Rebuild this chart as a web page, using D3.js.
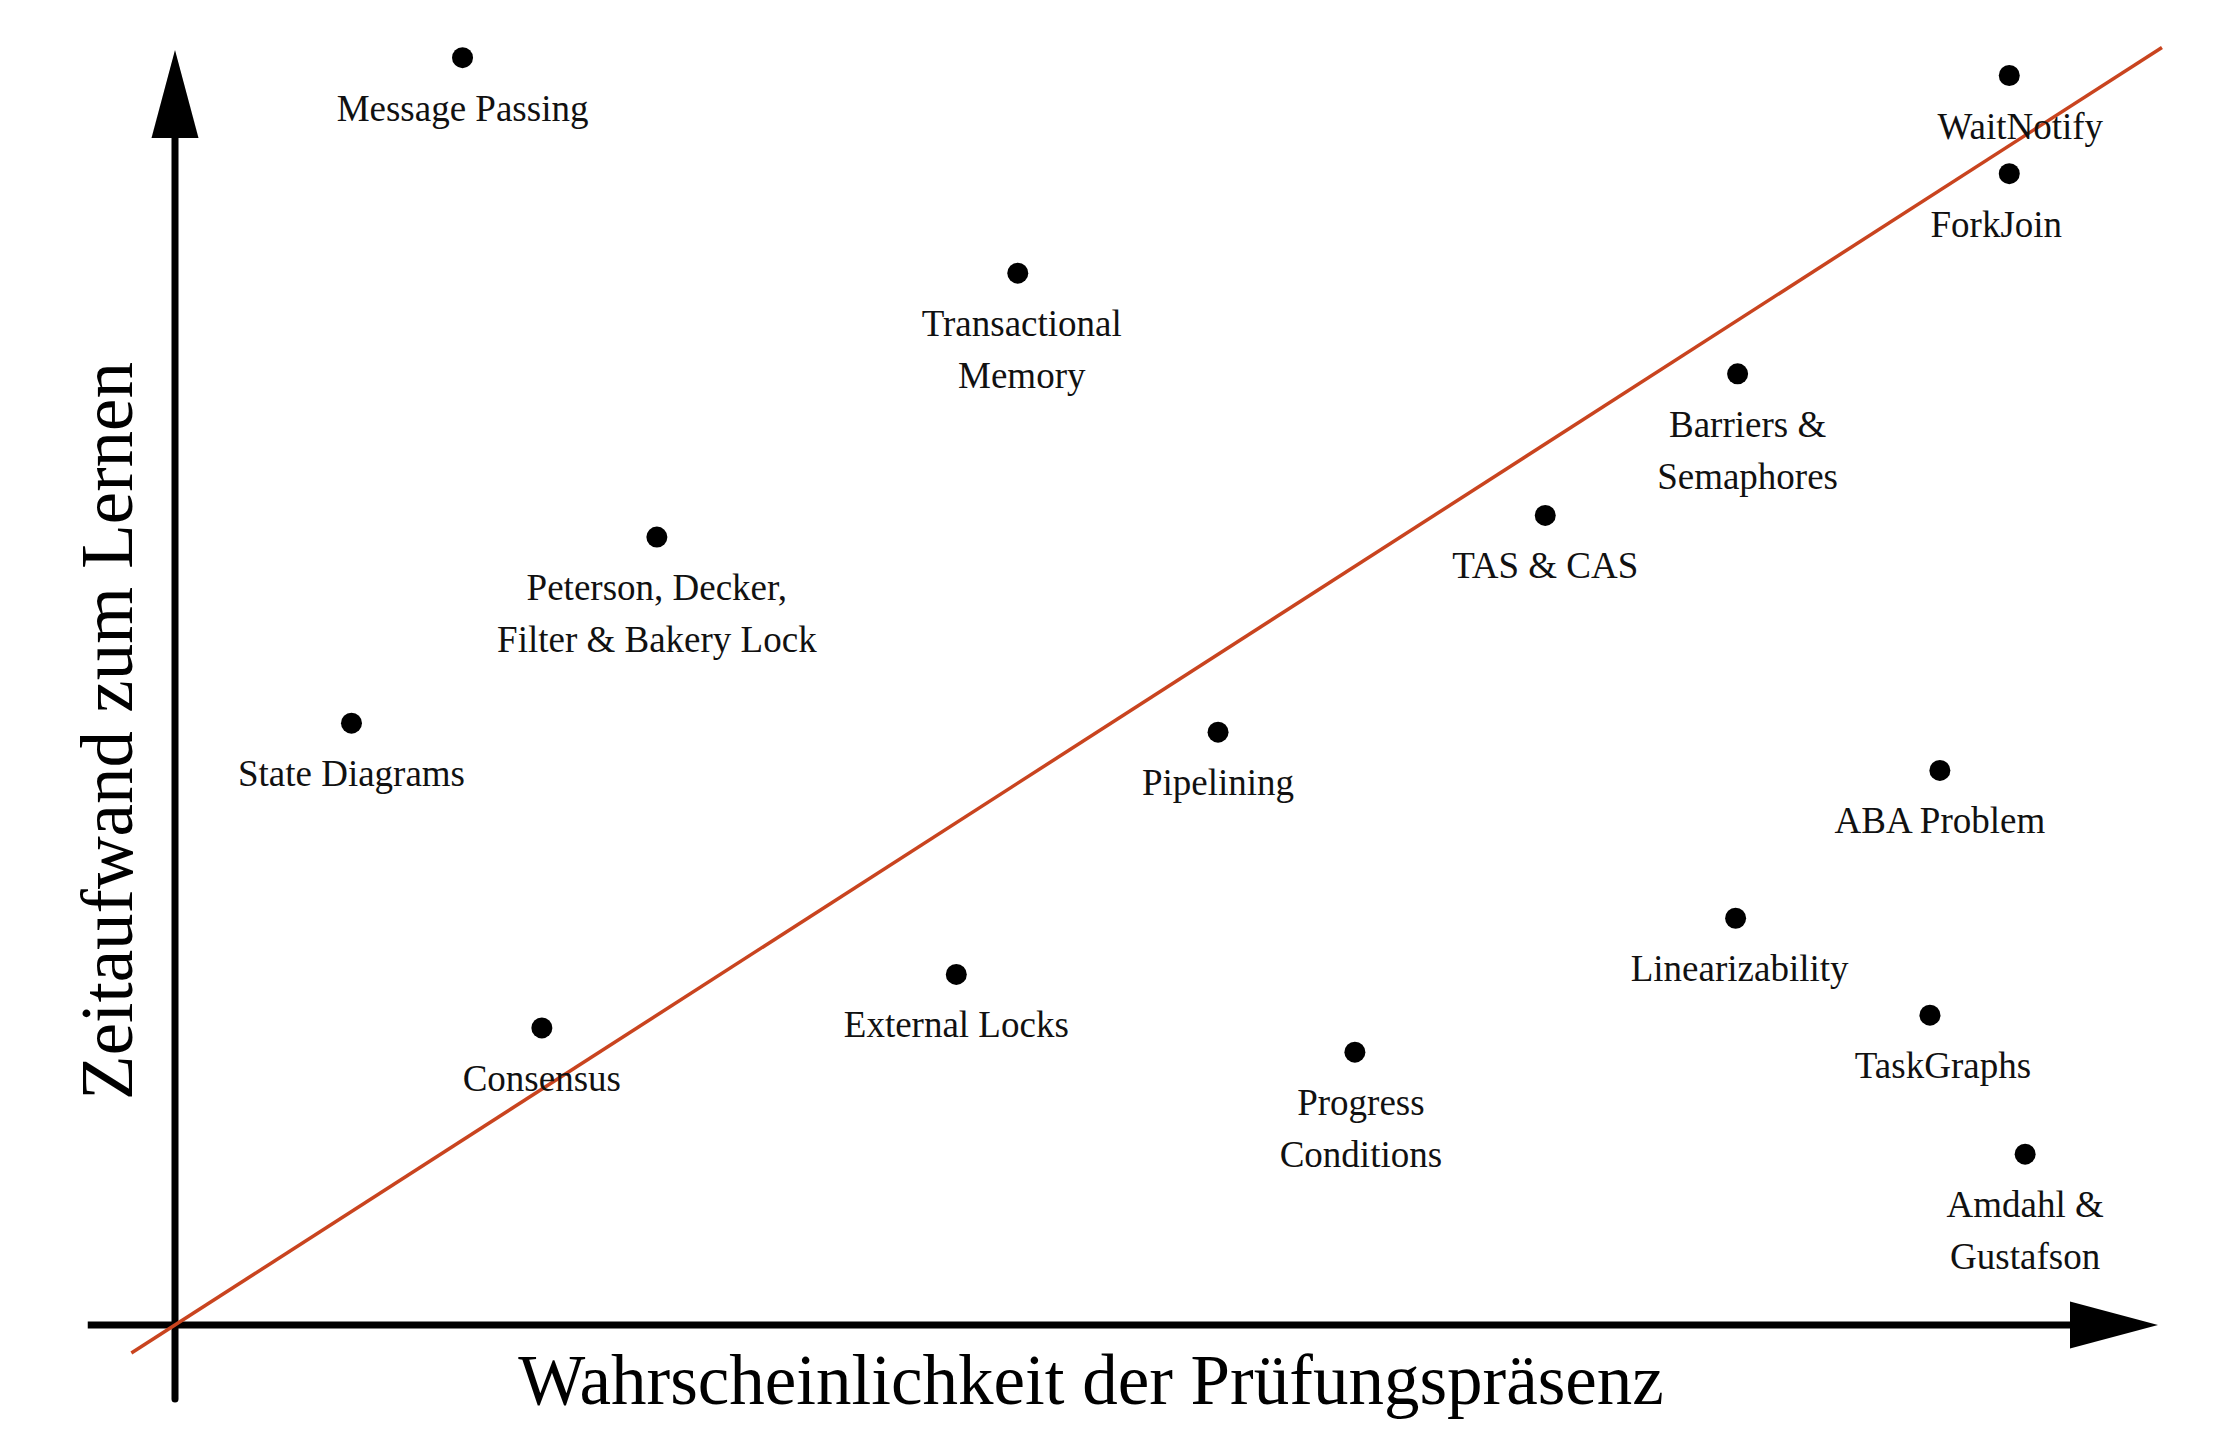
<!DOCTYPE html>
<html>
<head>
<meta charset="utf-8">
<script src="https://cdn.jsdelivr.net/npm/d3@7/dist/d3.min.js"></script>
<style>
  html, body { margin: 0; padding: 0; background: #fff; }
  svg { display: block; }
</style>
</head>
<body>
<svg id="chart" width="2232" height="1442"></svg>
<script>
// ---- data ----
const labels = [
  ["Message Passing"],
  ["WaitNotify"],
  ["ForkJoin"],
  ["Transactional", "Memory"],
  ["Barriers &", "Semaphores"],
  ["TAS & CAS"],
  ["Peterson, Decker,", "Filter & Bakery Lock"],
  ["State Diagrams"],
  ["Pipelining"],
  ["ABA Problem"],
  ["Linearizability"],
  ["External Locks"],
  ["Consensus"],
  ["TaskGraphs"],
  ["Progress", "Conditions"],
  ["Amdahl &", "Gustafson"]
];
// probability of appearing in exam (x), learning effort (y), unitless 0..10
const probability = [1.45, 9.25, 9.25, 4.25, 7.88, 6.91, 2.43, 0.89, 5.26, 8.90, 7.87, 3.94, 1.85, 8.85, 5.95, 9.33];
const effort      = [9.94, 9.80, 9.03, 8.25, 7.46, 6.35, 6.18, 4.72, 4.65, 4.35, 3.19, 2.75, 2.33, 2.43, 2.14, 1.34];
const trendX = [-0.22, 10.02];
const trendY = [-0.22, 10.02];
const xTitle = "Wahrscheinlichkeit der Prüfungspräsenz";
const yTitle = "Zeitaufwand zum Lernen";

// ---- drawing ----
const svg = d3.select("#chart");
const x = d3.scaleLinear().domain([0, 10]).range([175, 2158]);
const y = d3.scaleLinear().domain([0, 10]).range([1325, 50]);
const font = "'Liberation Serif', 'DejaVu Serif', serif";

// small horizontal label nudges (layout only)
const nudge = { "WaitNotify": 11, "ForkJoin": -13, "Barriers &": 10, "TaskGraphs": 13,
                "Progress": 6, "Transactional": 4, "Linearizability": 4 };

// axes
const axisW = 7, headLen = 88, headHalf = 23.5;
svg.append("line")
  .attr("x1", x(-0.44)).attr("x2", x(10) - headLen + 2)
  .attr("y1", y(0)).attr("y2", y(0))
  .attr("stroke", "#000").attr("stroke-width", axisW);
svg.append("path")
  .attr("d", `M${x(10)},${y(0)} L${x(10) - headLen},${y(0) - headHalf} L${x(10) - headLen},${y(0) + headHalf} Z`)
  .attr("fill", "#000");
svg.append("line")
  .attr("x1", x(0)).attr("x2", x(0))
  .attr("y1", y(-0.58)).attr("y2", y(10) + headLen - 2)
  .attr("stroke", "#000").attr("stroke-width", axisW)
  .attr("stroke-linecap", "round");
svg.append("path")
  .attr("d", `M${x(0)},${y(10)} L${x(0) - headHalf},${y(10) + headLen} L${x(0) + headHalf},${y(10) + headLen} Z`)
  .attr("fill", "#000");

// trend line
svg.append("path")
  .datum(d3.zip(trendX, trendY))
  .attr("d", d3.line().x(d => x(d[0])).y(d => y(d[1])))
  .attr("stroke", "#c9441f").attr("stroke-width", 3.5).attr("fill", "none");

// points
const pts = labels.map((l, i) => ({ l, px: probability[i], py: effort[i] }));
const g = svg.append("g");
g.selectAll("circle").data(pts).join("circle")
  .attr("cx", d => x(d.px)).attr("cy", d => y(d.py)).attr("r", 10.5)
  .attr("fill", "#000");

const txt = g.selectAll("text.lbl").data(pts).join("text")
  .attr("class", "lbl")
  .attr("x", d => x(d.px)).attr("y", d => y(d.py) + 63)
  .attr("text-anchor", "middle")
  .attr("font-family", font).attr("font-size", 37)
  .attr("fill", "#111");
txt.selectAll("tspan").data(d => d.l.map(s => ({ s, cx: x(d.px) + (nudge[d.l[0]] || 0) }))).join("tspan")
  .attr("x", d => d.cx)
  .attr("dy", (d, i) => i === 0 ? 0 : 52)
  .text(d => d.s);

// titles
svg.append("text")
  .attr("x", 1091).attr("y", 1404)
  .attr("text-anchor", "middle")
  .attr("font-family", font).attr("font-size", 71)
  .attr("fill", "#000")
  .text(xTitle);
svg.append("text")
  .attr("transform", "translate(132,731) rotate(-90)")
  .attr("text-anchor", "middle")
  .attr("font-family", font).attr("font-size", 73)
  .attr("fill", "#000")
  .text(yTitle);
</script>
</body>
</html>
